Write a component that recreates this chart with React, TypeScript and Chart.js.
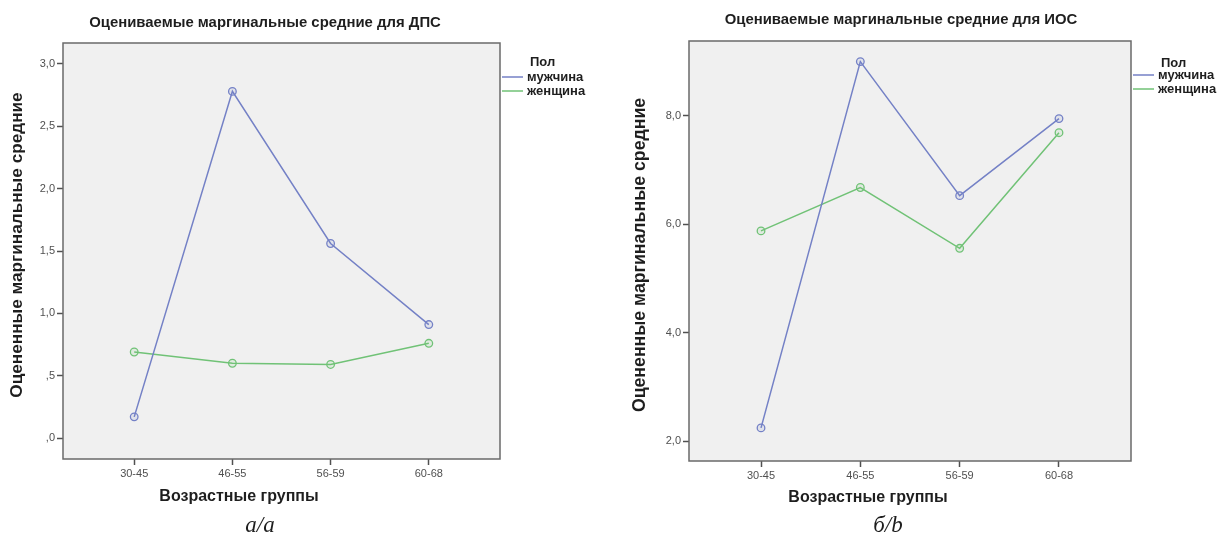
import React, { useEffect, useRef } from "react";
import { Chart, registerables } from "chart.js";

Chart.register(...registerables);

// ---------- data ----------
const categories = ["30-45", "46-55", "56-59", "60-68"];
const seriesLabels = ["мужчина", "женщина"];
const legendTitle = "Пол";

const dpsMale = [0.17, 2.78, 1.56, 0.91];
const dpsFemale = [0.69, 0.6, 0.59, 0.76];
const dpsYTicks = [0, 0.5, 1, 1.5, 2, 2.5, 3];
const dpsYTickLabels = [",0", ",5", "1,0", "1,5", "2,0", "2,5", "3,0"];

const iosMale = [2.25, 9.0, 6.53, 7.95];
const iosFemale = [5.88, 6.68, 5.56, 7.69];
const iosYTicks = [2, 4, 6, 8];
const iosYTickLabels = ["2,0", "4,0", "6,0", "8,0"];

const dpsTitle = "Оцениваемые маргинальные средние для ДПС";
const iosTitle = "Оцениваемые маргинальные средние для ИОС";
const yTitle = "Оцененные маргинальные средние";
const xTitle = "Возрастные группы";
const dpsCaption = "а/a";
const iosCaption = "б/b";

// ---------- styles ----------
const MALE = "#7481c6";
const FEMALE = "#70c276";
const SANS = "'Liberation Sans', Arial, sans-serif";
const SERIF = "'Liberation Serif', 'Times New Roman', serif";
const W = 609;
const H = 536;

type PanelCfg = {
  left: number;
  male: number[];
  female: number[];
  yTicks: number[];
  yTickLabels: string[];
  yMin: number;
  yMax: number;
  area: { l: number; r: number; t: number; b: number };
  title: string;
  titleXY: [number, number];
  yTitleXY: [number, number];
  yTitleSize: number;
  xTitleXY: [number, number];
  caption: string;
  captionXY: [number, number];
  legendY: [number, number, number];
};

const panels: PanelCfg[] = [
  {
    left: 0,
    male: dpsMale,
    female: dpsFemale,
    yTicks: dpsYTicks,
    yTickLabels: dpsYTickLabels,
    yMin: -0.168,
    yMax: 3.168,
    area: { l: 63, r: 500, t: 43, b: 459 },
    title: dpsTitle,
    titleXY: [265, 23],
    yTitleXY: [17, 245],
    yTitleSize: 17.2,
    xTitleXY: [239, 497],
    caption: dpsCaption,
    captionXY: [260, 532],
    legendY: [62, 77, 91],
  },
  {
    left: 609,
    male: iosMale,
    female: iosFemale,
    yTicks: iosYTicks,
    yTickLabels: iosYTickLabels,
    yMin: 1.64,
    yMax: 9.38,
    area: { l: 80, r: 522, t: 41, b: 461 },
    title: iosTitle,
    titleXY: [292, 20],
    yTitleXY: [31, 255],
    yTitleSize: 17.7,
    xTitleXY: [259, 498],
    caption: iosCaption,
    captionXY: [279, 532],
    legendY: [63, 75, 89],
  },
];

function PanelChart({ p }: { p: PanelCfg }) {
  const ref = useRef<HTMLCanvasElement>(null);

  useEffect(() => {
    const canvas = ref.current!;
    const Y_AXIS_W = 40;
    const X_AXIS_H = 30;

    const decor = {
      id: "decor",
      beforeDatasetsDraw(chart: any) {
        const { ctx, chartArea: a } = chart;
        ctx.save();
        ctx.fillStyle = "#f0f0f0";
        ctx.fillRect(a.left, a.top, a.right - a.left, a.bottom - a.top);
        ctx.strokeStyle = "#6a6a6a";
        ctx.lineWidth = 1.5;
        ctx.strokeRect(a.left, a.top, a.right - a.left, a.bottom - a.top);
        ctx.restore();
      },
      afterDraw(chart: any) {
        const { ctx, chartArea: a } = chart;
        ctx.save();
        ctx.fillStyle = "#1e1e1e";
        ctx.textAlign = "center";
        ctx.textBaseline = "middle";
        // title
        ctx.font = `bold 14.9px ${SANS}`;
        ctx.fillText(p.title, p.titleXY[0], p.titleXY[1]);
        // x title
        ctx.font = `bold 16px ${SANS}`;
        ctx.fillText(xTitle, p.xTitleXY[0], p.xTitleXY[1]);
        // y title
        ctx.save();
        ctx.translate(p.yTitleXY[0], p.yTitleXY[1]);
        ctx.rotate(-Math.PI / 2);
        ctx.font = `bold ${p.yTitleSize}px ${SANS}`;
        ctx.fillText(yTitle, 0, 0);
        ctx.restore();
        // caption
        ctx.textBaseline = "alphabetic";
        ctx.font = `italic 23px ${SERIF}`;
        ctx.fillText(p.caption, p.captionXY[0], p.captionXY[1]);
        // legend
        ctx.textAlign = "left";
        ctx.textBaseline = "middle";
        ctx.font = `bold 13px ${SANS}`;
        ctx.fillText(legendTitle, a.right + 30, p.legendY[0]);
        const colors = [MALE, FEMALE];
        seriesLabels.forEach((lab, i) => {
          const y = p.legendY[i + 1];
          ctx.strokeStyle = colors[i];
          ctx.lineWidth = 1.5;
          ctx.beginPath();
          ctx.moveTo(a.right + 2, y);
          ctx.lineTo(a.right + 23, y);
          ctx.stroke();
          ctx.fillStyle = "#1e1e1e";
          ctx.fillText(lab, a.right + 27, y);
        });
        ctx.restore();
      },
    };

    const mk = (label: string, vals: number[], color: string, fill: string) => ({
      label,
      data: vals.map((v, i) => ({ x: i, y: v })),
      borderColor: color,
      backgroundColor: fill,
      pointBorderColor: color,
      pointBackgroundColor: fill,
      pointRadius: 3.8,
      pointBorderWidth: 1.3,
      borderWidth: 1.5,
      tension: 0,
    });

    const chart = new Chart(canvas, {
      type: "line",
      data: {
        datasets: [
          mk(seriesLabels[0], p.male, MALE, "rgba(116,129,198,0.12)"),
          mk(seriesLabels[1], p.female, FEMALE, "rgba(112,194,118,0.12)"),
        ],
      },
      options: {
        animation: false,
        responsive: false,
        devicePixelRatio: 1,
        layout: {
          padding: {
            left: p.area.l - Y_AXIS_W,
            right: W - p.area.r,
            top: p.area.t,
            bottom: H - p.area.b - X_AXIS_H,
          },
        },
        plugins: {
          legend: { display: false },
          title: { display: false },
          tooltip: { enabled: false },
        },
        scales: {
          x: {
            type: "linear",
            min: -0.725,
            max: 3.725,
            afterBuildTicks: (s: any) => {
              s.ticks = categories.map((_, i) => ({ value: i }));
            },
            afterFit: (s: any) => {
              s.height = X_AXIS_H;
            },
            ticks: {
              callback: (_v: any, i: number) => categories[i],
              color: "#505050",
              font: { family: SANS, size: 11 },
              padding: 2,
              autoSkip: false,
              maxRotation: 0,
            },
            grid: {
              drawOnChartArea: false,
              drawTicks: true,
              tickLength: 6,
              tickColor: "#505050",
              tickWidth: 1.5,
            },
            border: { display: false },
          },
          y: {
            type: "linear",
            min: p.yMin,
            max: p.yMax,
            afterBuildTicks: (s: any) => {
              s.ticks = p.yTicks.map((v) => ({ value: v }));
            },
            afterFit: (s: any) => {
              s.width = Y_AXIS_W;
            },
            ticks: {
              callback: (_v: any, i: number) => p.yTickLabels[i],
              color: "#505050",
              font: { family: SANS, size: 11 },
              padding: 2,
              autoSkip: false,
            },
            grid: {
              drawOnChartArea: false,
              drawTicks: true,
              tickLength: 6,
              tickColor: "#505050",
              tickWidth: 1.5,
            },
            border: { display: false },
          },
        },
      },
      plugins: [decor],
    } as any);

    return () => chart.destroy();
  }, [p]);

  return (
    <div style={{ position: "absolute", left: p.left, top: 0, width: W, height: H }}>
      <canvas ref={ref} width={W} height={H} style={{ width: W, height: H, display: "block" }} />
    </div>
  );
}

export default function App() {
  return (
    <div style={{ position: "absolute", left: 0, top: 0, width: 1218, height: 536, background: "#fff" }}>
      {panels.map((p, i) => (
        <PanelChart key={i} p={p} />
      ))}
    </div>
  );
}
